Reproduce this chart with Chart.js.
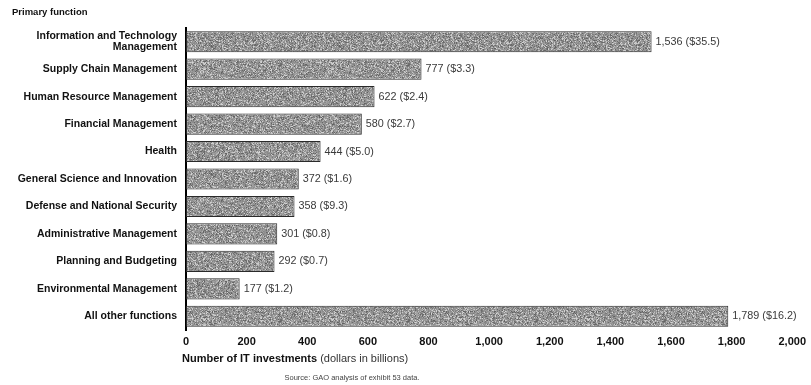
<!DOCTYPE html>
<html>
<head>
<meta charset="utf-8">
<title>IT investments by primary function</title>
<script src="https://cdn.jsdelivr.net/npm/chart.js@4.4.1/dist/chart.umd.min.js"></script>
<style>
  html, body { margin: 0; padding: 0; background: #fff; }
  #wrap { width: 811px; height: 385px; position: relative; }
</style>
</head>
<body>
<div id="wrap"><canvas id="chart"></canvas></div>
<script>
const functions = [
    ['Information and Technology', 'Management'],
    'Supply Chain Management',
    'Human Resource Management',
    'Financial Management',
    'Health',
    'General Science and Innovation',
    'Defense and National Security',
    'Administrative Management',
    'Planning and Budgeting',
    'Environmental Management',
    'All other functions'
]
const investments = [1536, 777, 622, 580, 444, 372, 358, 301, 292, 177, 1789]
const dollars = [35.5, 3.3, 2.4, 2.7, 5.0, 1.6, 9.3, 0.8, 0.7, 1.2, 16.2]
const xTicks = [0, 200, 400, 600, 800, 1000, 1200, 1400, 1600, 1800, 2000]

const FONT = '"Liberation Sans", Arial, sans-serif'

// speckled grey fill, like a photocopied halftone
function grainPattern() {
    const c = document.createElement('canvas')
    c.width = 128
    c.height = 128
    const g = c.getContext('2d')
    const img = g.createImageData(c.width, c.height)
    let seed = 0x9e3779b9
    function next() {
        seed = (seed + 0x6d2b79f5) | 0
        let t = Math.imul(seed ^ (seed >>> 15), 1 | seed)
        t = (t + Math.imul(t ^ (t >>> 7), 61 | t)) ^ t
        return ((t ^ (t >>> 14)) >>> 0) / 4294967296
    }
    for (let i = 0; i < c.width * c.height; i++) {
        const n = next()
        let v
        if (n < 0.25) v = 95 + next() * 40
        else if (n > 0.8) v = 180 + next() * 35
        else v = 135 + next() * 30
        img.data[i * 4] = v
        img.data[i * 4 + 1] = v
        img.data[i * 4 + 2] = v
        img.data[i * 4 + 3] = 255
    }
    g.putImageData(img, 0, 0)
    return g.createPattern(c, 'repeat')
}

function fmt(n) {
    return n.toLocaleString('en-US')
}

const textPlugin = {
    id: 'textPlugin',
    afterDatasetsDraw(chart) {
        const ctx = chart.ctx
        const meta = chart.getDatasetMeta(0)
        ctx.save()

        // value labels at the end of each bar
        ctx.font = '10.8px ' + FONT
        ctx.fillStyle = '#3a3a3a'
        ctx.textAlign = 'left'
        ctx.textBaseline = 'middle'
        meta.data.forEach((bar, i) => {
            ctx.fillText(fmt(investments[i]) + ' ($' + dollars[i].toFixed(1) + ')', bar.x + 4, bar.y)
        })

        // heading above the categories
        ctx.fillStyle = '#111'
        ctx.font = 'bold 9.5px ' + FONT
        ctx.textBaseline = 'alphabetic'
        ctx.fillText('Primary function', 12, 15)

        // axis title, bold part then plain part
        const x0 = 182, y0 = 362
        ctx.font = 'bold 11px ' + FONT
        ctx.fillText('Number of IT investments', x0, y0)
        const w = ctx.measureText('Number of IT investments ').width
        ctx.font = '11px ' + FONT
        ctx.fillStyle = '#333'
        ctx.fillText('(dollars in billions)', x0 + w, y0)

        ctx.font = '7.5px ' + FONT
        ctx.fillStyle = '#444'
        ctx.textAlign = 'center'
        ctx.fillText('Source: GAO analysis of exhibit 53 data.', 352, 380)
        ctx.restore()
    }
}

const ctx = document.getElementById('chart').getContext('2d')
const chart = new Chart(ctx, {
    type: 'bar',
    data: {
        labels: functions,
        datasets: [{
            data: investments,
            backgroundColor: grainPattern(),
            borderColor: '#2a2a2a',
            borderWidth: 1,
            borderSkipped: false,
            categoryPercentage: 1,
            barPercentage: 0.77
        }]
    },
    options: {
        indexAxis: 'y',
        responsive: true,
        maintainAspectRatio: false,
        animation: false,
        layout: {
            padding: { top: 28, right: 13, bottom: 0, left: 0 }
        },
        plugins: {
            legend: { display: false },
            tooltip: { enabled: false }
        },
        scales: {
            x: {
                min: 0,
                max: 2000,
                afterBuildTicks(axis) {
                    axis.ticks = xTicks.map(v => ({ value: v }))
                },
                afterFit(axis) { axis.height = 55 },
                grid: { display: false, drawTicks: false },
                border: { display: false },
                ticks: {
                    padding: 5,
                    color: '#111',
                    font: { family: FONT, size: 11, weight: 'bold' },
                    callback: v => fmt(v),
                    maxRotation: 0
                }
            },
            y: {
                afterFit(axis) { axis.width = 186 },
                grid: { display: false, drawTicks: false },
                border: { display: true, color: '#000', width: 2 },
                ticks: {
                    padding: 9,
                    color: '#111',
                    font: { family: FONT, size: 10.5, weight: 'bold', lineHeight: 1.1 }
                }
            }
        }
    },
    plugins: [textPlugin]
})
</script>
</body>
</html>
